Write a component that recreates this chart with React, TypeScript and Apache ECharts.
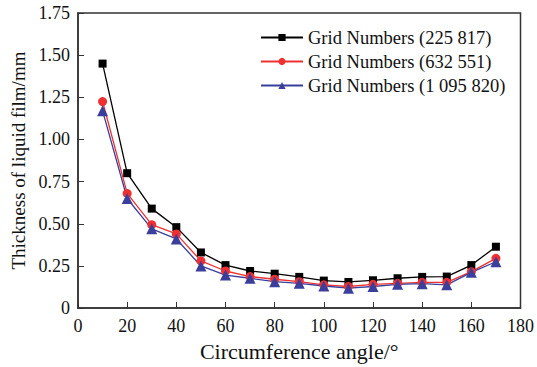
import React, { useEffect, useRef } from "react";
import * as echarts from "echarts";

const angles = [10, 20, 30, 40, 50, 60, 70, 80, 90, 100, 110, 120, 130, 140, 150, 160, 170];
const grid225817 = [1.45, 0.8, 0.59, 0.48, 0.33, 0.255, 0.22, 0.204, 0.185, 0.163, 0.155, 0.165, 0.177, 0.185, 0.187, 0.255, 0.364];
const grid632551 = [1.225, 0.68, 0.495, 0.44, 0.28, 0.22, 0.187, 0.171, 0.157, 0.138, 0.128, 0.141, 0.147, 0.153, 0.153, 0.216, 0.295];
const grid1095820 = [1.17, 0.65, 0.47, 0.41, 0.25, 0.196, 0.177, 0.157, 0.147, 0.131, 0.118, 0.128, 0.141, 0.145, 0.138, 0.212, 0.275];
const seriesNames = ["Grid Numbers (225 817)", "Grid Numbers (632 551)", "Grid Numbers (1 095 820)"];

const FONT = "Liberation Serif";

export default function App() {
  const ref = useRef<HTMLDivElement>(null);
  useEffect(() => {
    const chart = echarts.init(ref.current!, null, { renderer: "svg" });
    const mk = (name: string, data: number[], color: string, symbol: string, size: number) => ({
      name,
      type: "line",
      data: angles.map((a, i) => [a, data[i]]),
      symbol,
      symbolSize: size,
      itemStyle: { color },
      lineStyle: { color, width: 1.3 },
    });
    chart.setOption({
      animation: false,
      backgroundColor: "#fff",
      grid: { left: 78, top: 13, right: 15, bottom: 57, show: true, borderColor: "#333", borderWidth: 1.5, backgroundColor: "transparent" },
      legend: {
        orient: "vertical",
        left: 255,
        top: 23,
        itemWidth: 42,
        itemHeight: 9,
        itemGap: 5,
        textStyle: { fontFamily: FONT, fontSize: 18.5, color: "#111" },
        data: seriesNames,
      },
      xAxis: {
        type: "value",
        min: 0,
        max: 180,
        interval: 20,
        name: "Circumference angle/°",
        nameLocation: "middle",
        nameGap: 29,
        nameTextStyle: { fontFamily: FONT, fontSize: 22, color: "#111" },
        axisLine: { show: true, lineStyle: { color: "#333", width: 1.5 } },
        axisTick: { show: true, inside: true, length: 6, lineStyle: { color: "#333" } },
        axisLabel: { fontFamily: FONT, fontSize: 18, color: "#111", margin: 9 },
        splitLine: { show: false },
      },
      yAxis: {
        type: "value",
        min: 0,
        max: 1.75,
        interval: 0.25,
        name: "Thickness of liquid film/mm",
        nameLocation: "middle",
        nameGap: 49,
        nameTextStyle: { fontFamily: FONT, fontSize: 19, color: "#111" },
        axisLine: { show: true, lineStyle: { color: "#333", width: 1.5 } },
        axisTick: { show: true, inside: true, length: 6, lineStyle: { color: "#333" } },
        axisLabel: {
          fontFamily: FONT,
          fontSize: 18,
          color: "#111",
          margin: 8,
          formatter: (v: number) => (v === 0 ? "0" : v.toFixed(2)),
        },
        splitLine: { show: false },
      },
      series: [
        mk(seriesNames[0], grid225817, "#000000", "rect", 8),
        mk(seriesNames[1], grid632551, "#f03030", "circle", 9),
        mk(seriesNames[2], grid1095820, "#3a3f9c", "triangle", 11),
      ],
    });
    return () => chart.dispose();
  }, []);
  return <div ref={ref} style={{ position: "fixed", left: 0, top: 0, width: 537, height: 367 }} />;
}
